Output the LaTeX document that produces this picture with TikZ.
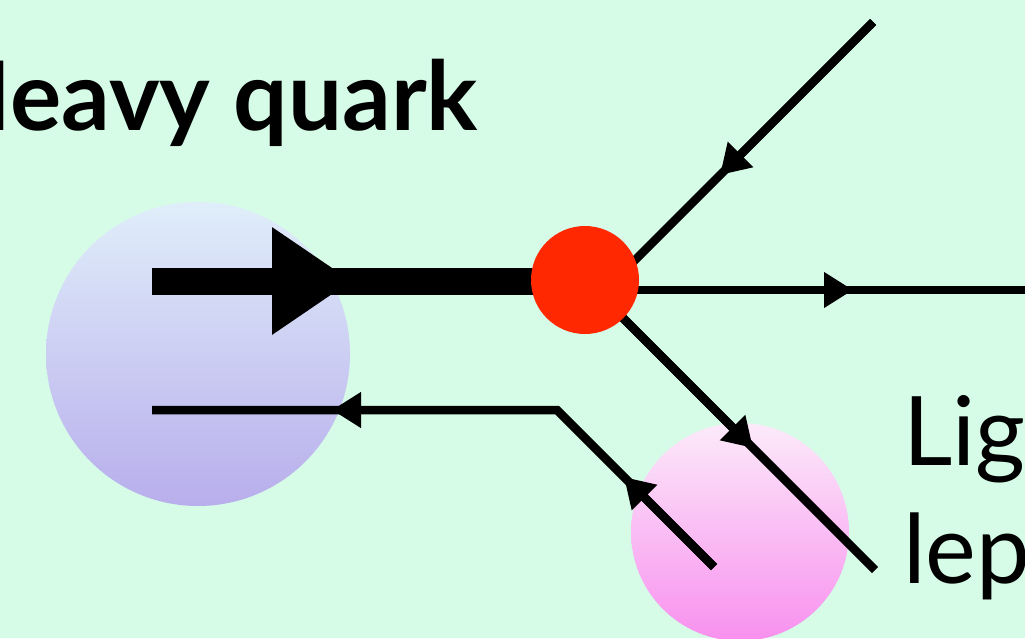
\documentclass[tikz,border=0pt]{standalone}
\usepackage{fontspec}
\setmainfont{Lato}
\usetikzlibrary{arrows.meta}
\definecolor{bgc}{RGB}{214,252,232}
\definecolor{bluetop}{RGB}{224,238,250}
\definecolor{bluebot}{RGB}{184,174,236}
\definecolor{pinktop}{RGB}{252,234,250}
\definecolor{pinkbot}{RGB}{248,144,238}
\definecolor{redc}{RGB}{255,40,0}
\tikzset{
  fermion/.style={line width=8.5pt, black},
  heavy/.style={line width=27pt, black},
  smalltip/.style={-{Triangle[length=29pt,width=34pt]}},
  bigtip/.style={-{Triangle[length=80pt,width=102pt]}},
  lbl/.style={inner sep=0pt, outer sep=0pt, font=\fontsize{96}{116}\selectfont}
}
\begin{document}
\begin{tikzpicture}[x=1pt,y=-1pt]
\useasboundingbox (0,0) rectangle (1025,638);
\clip (0,0) rectangle (1025,638);
\fill[bgc] (0,0) rectangle (1025,638);
% blobs
\shade[top color=bluetop, bottom color=bluebot] (198,354) circle[radius=152];
\shade[top color=pinktop, bottom color=pinkbot] (740,532) circle[radius=109];
% coordinates
\coordinate (V) at (585,280);
\coordinate (Q0) at (152,281);
\coordinate (QV) at (585,281);
\coordinate (tH) at (352,281);
\coordinate (L0) at (152,410);
\coordinate (Lc) at (557,410);
\coordinate (L1) at (714,567);
\coordinate (tA) at (332,410);
\coordinate (tB) at (624,477);
\coordinate (U0) at (873,22);
\coordinate (U1) at (628,267);
\coordinate (tC) at (720,175);
\coordinate (R0) at (600,290);
\coordinate (R1) at (1030,290);
\coordinate (tD) at (853,290);
\coordinate (D1) at (875,570);
\coordinate (tE) at (753,448);
% heavy quark line
\draw[heavy] (Q0) -- (QV);
\draw[heavy,bigtip] (Q0) -- (tH);
% spectator antiquark line
\draw[fermion, line join=miter] (L0) -- (Lc) -- (L1);
\draw[fermion,smalltip] (Lc) -- (tA);
\draw[fermion,smalltip] (L1) -- (tB);
% outgoing lines
\draw[fermion] (U0) -- (U1);
\draw[fermion,smalltip] (U0) -- (tC);
\draw[fermion] (R0) -- (R1);
\draw[fermion,smalltip] (R0) -- (tD);
\draw[fermion] (V) -- (D1);
\draw[fermion,smalltip] (V) -- (tE);
% vertex
\fill[redc] (V) circle[radius=54];
% labels
\node[lbl, anchor=base east, font=\fontsize{96}{116}\selectfont\bfseries] (hq) at (478,130) {Heavy quark};
\node[lbl, anchor=base west] (ll1) at (903,465) {Light};
\node[lbl, anchor=base west] (ll2) at (903,583) {lepton};
\end{tikzpicture}
\end{document}
